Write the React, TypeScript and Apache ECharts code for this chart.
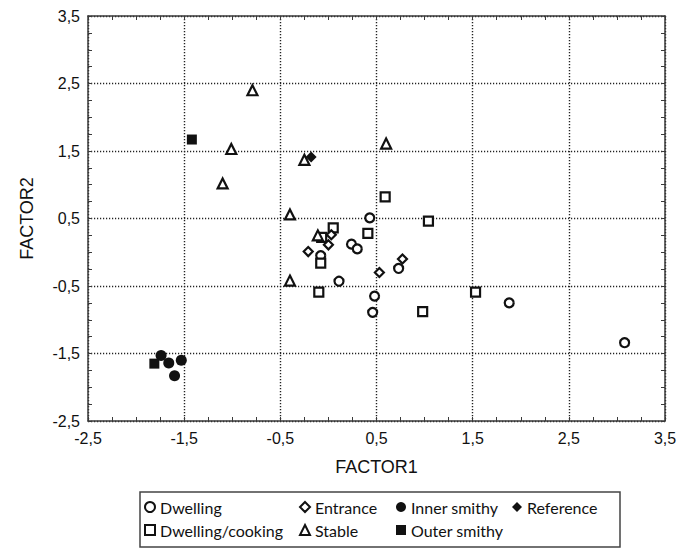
import React, { useEffect, useRef } from "react";
import * as echarts from "echarts";

const dwelling: number[][] = [
  [0.43, 0.51], [0.24, 0.12], [0.30, 0.05], [-0.08, -0.05], [0.11, -0.43],
  [0.73, -0.24], [0.48, -0.65], [0.46, -0.89], [1.88, -0.75], [3.08, -1.34],
];
const dwellingCooking: number[][] = [
  [0.59, 0.82], [0.41, 0.28], [1.04, 0.46], [0.05, 0.36], [-0.07, 0.22],
  [-0.08, -0.16], [-0.10, -0.59], [0.98, -0.88], [1.53, -0.59],
];
const entrance: number[][] = [
  [0.03, 0.26], [0.0, 0.11], [-0.21, 0.01], [0.53, -0.30], [0.77, -0.10],
];
const innerSmithy: number[][] = [
  [-1.74, -1.53], [-1.66, -1.64], [-1.53, -1.60], [-1.60, -1.83],
];
const reference: number[][] = [[-0.18, 1.41]];
const stable: number[][] = [
  [-0.79, 2.40], [-1.01, 1.53], [-1.10, 1.02], [-0.25, 1.37], [0.60, 1.61],
  [-0.40, 0.56], [-0.11, 0.25], [-0.40, -0.42],
];
const outerSmithy: number[][] = [[-1.42, 1.67], [-1.81, -1.65]];

const axisMin = -2.5;
const axisMax = 3.5;
const axisStep = 1;

const fmt = (v: number) => v.toFixed(1).replace(".", ",");

export default function App() {
  const ref = useRef<HTMLDivElement>(null);
  useEffect(() => {
    if (!ref.current) return;
    const chart = echarts.init(ref.current, undefined, { renderer: "svg" });
    const frame = "#3a3a3a";
    const tickCommon = {
      axisLine: { show: true, onZero: false, lineStyle: { color: frame, width: 1.5 } },
      axisTick: { show: true, inside: true, length: 4, lineStyle: { color: frame, width: 1 } },
      minorTick: { show: true, splitNumber: 4, length: 4, lineStyle: { color: frame, width: 1 } },
    };
    const labelFont = { color: "#111", fontSize: 16, fontFamily: "Liberation Sans, Arial, sans-serif" };
    const open = (symbol: string, size: number) => ({
      type: "scatter" as const,
      symbol,
      symbolSize: size,
      itemStyle: { color: "#fff", borderColor: "#111", borderWidth: 2.2, opacity: 1 },
    });
    const filled = (symbol: string, size: number) => ({
      type: "scatter" as const,
      symbol,
      symbolSize: size,
      itemStyle: { color: "#111", borderColor: "#111", borderWidth: 0, opacity: 1 },
    });
    const legendFont = { color: "#111", fontSize: 16, fontFamily: "Lato, 'Open Sans', sans-serif" };
    const mkLegend = (name: string, left: number, top: number) => ({
      data: [name],
      left,
      top,
      orient: "horizontal",
      itemWidth: 10,
      itemHeight: 10,
      padding: 0,
      selectedMode: false,
      textStyle: { ...legendFont, padding: [0, 0, 0, 0] },
    });
    const gridLine = { show: true, lineStyle: { color: "#222", type: [1.2, 1.8], width: 1.4 } };
    chart.setOption({
      animation: false,
      backgroundColor: "#fff",
      grid: { left: 88, right: 27, top: 16, bottom: 128, containLabel: false },
      xAxis: [
        {
          type: "value",
          min: axisMin,
          max: axisMax,
          interval: axisStep,
          position: "bottom",
          ...tickCommon,
          axisLabel: { ...labelFont, margin: 9, formatter: fmt },
          splitLine: gridLine,
          name: "FACTOR1",
          nameLocation: "middle",
          nameGap: 37,
          nameTextStyle: { color: "#111", fontSize: 18, fontFamily: "Liberation Sans, Arial, sans-serif" },
        },
        {
          type: "value",
          min: axisMin,
          max: axisMax,
          interval: axisStep,
          position: "top",
          ...tickCommon,
          axisLabel: { show: false },
          splitLine: { show: false },
        },
      ],
      yAxis: [
        {
          type: "value",
          min: axisMin,
          max: axisMax,
          interval: axisStep,
          position: "left",
          ...tickCommon,
          axisLabel: { ...labelFont, margin: 8, formatter: fmt },
          splitLine: gridLine,
          name: "FACTOR2",
          nameLocation: "middle",
          nameGap: 52,
          nameTextStyle: { color: "#111", fontSize: 18, fontFamily: "Liberation Sans, Arial, sans-serif" },
        },
        {
          type: "value",
          min: axisMin,
          max: axisMax,
          interval: axisStep,
          position: "right",
          ...tickCommon,
          axisLabel: { show: false },
          splitLine: { show: false },
        },
      ],
      legend: [
        mkLegend("Dwelling", 144, 499),
        mkLegend("Dwelling/cooking", 144, 522),
        mkLegend("Entrance", 299, 499),
        mkLegend("Stable", 299, 522),
        mkLegend("Inner smithy", 396, 499),
        mkLegend("Outer smithy", 396, 522),
        mkLegend("Reference", 512, 499),
      ],
      graphic: [
        {
          type: "rect",
          shape: { x: 140, y: 492, width: 480, height: 55 },
          style: { fill: "none", stroke: "#444", lineWidth: 1.5 },
          silent: true,
        },
      ],
      series: [
        { name: "Dwelling", ...open("circle", 9), data: dwelling },
        { name: "Dwelling/cooking", ...open("rect", 9), data: dwellingCooking },
        { name: "Entrance", ...open("diamond", 9), data: entrance },
        { name: "Stable", ...open("triangle", 10), data: stable },
        { name: "Inner smithy", ...filled("circle", 11), data: innerSmithy },
        { name: "Outer smithy", ...filled("rect", 10), data: outerSmithy },
        { name: "Reference", ...filled("diamond", 11), data: reference },
      ],
    });
    return () => chart.dispose();
  }, []);
  return (
    <div
      ref={ref}
      style={{ position: "absolute", left: 0, top: 0, width: 692, height: 549 }}
    />
  );
}
